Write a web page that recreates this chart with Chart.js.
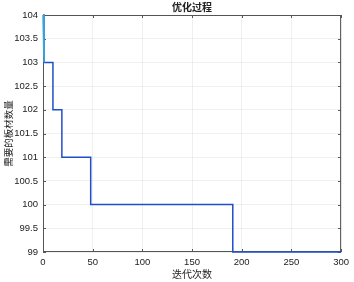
<!DOCTYPE html>
<html>
<head>
<meta charset="utf-8">
<script src="https://cdn.jsdelivr.net/npm/chart.js@4.4.1/dist/chart.umd.min.js"></script>
<style>
    html, body { margin: 0; padding: 0; background: #fff; }
    #wrap { width: 354px; height: 282px; }
</style>
</head>
<body>
<div id="wrap"><canvas id="c"></canvas></div>
<script>
// iteration numbers where the best value changes, and the value held from there on
const bestIters = [0, 1, 10, 19, 48, 191, 300];
const bestValues = [104, 103, 102, 101, 100, 99, 99];
// the short teal trace right at the start
const meanIters = [0, 1];
const meanValues = [104, 103];

const titleText = '优化过程';
const xLabel = '迭代次数';
const yLabel = '需要的板材数量';

const cjk = '"Noto Sans CJK SC", sans-serif';
const latin = '"Liberation Sans", Arial, sans-serif';

const toPoints = (xs, ys) => xs.map((x, i) => ({ x: x, y: ys[i] }));

// box round the plot with inward ticks on every side, plus the title
const boxPlugin = {
    id: 'box',
    beforeDatasetsDraw(chart) {
        const { ctx, chartArea: a, scales } = chart;
        ctx.save();
        ctx.strokeStyle = '#555';
        ctx.lineWidth = 1;
        ctx.strokeRect(a.left + 0.5, a.top + 0.5, a.right - a.left - 1, a.bottom - a.top - 1);
        ctx.beginPath();
        scales.x.ticks.forEach(t => {
            const px = Math.round(scales.x.getPixelForValue(t.value)) + 0.5;
            ctx.moveTo(px, a.bottom); ctx.lineTo(px, a.bottom - 3);
            ctx.moveTo(px, a.top); ctx.lineTo(px, a.top + 3);
        });
        scales.y.ticks.forEach(t => {
            const py = Math.round(scales.y.getPixelForValue(t.value)) + 0.5;
            ctx.moveTo(a.left, py); ctx.lineTo(a.left + 3, py);
            ctx.moveTo(a.right, py); ctx.lineTo(a.right - 3, py);
        });
        ctx.stroke();
        ctx.fillStyle = '#222';
        ctx.font = 'bold 10px ' + cjk;
        ctx.textAlign = 'center';
        ctx.textBaseline = 'middle';
        ctx.fillText(titleText, (a.left + a.right) / 2, 7);
        ctx.restore();
    }
};

new Chart(document.getElementById('c'), {
    type: 'line',
    data: {
        datasets: [
            {
                data: toPoints(meanIters, meanValues),
                borderColor: '#3aa6d8',
                borderWidth: 1.5,
                pointRadius: 0,
                clip: 4,
            },
            {
                data: toPoints(bestIters, bestValues),
                borderColor: '#1f4fc8',
                borderWidth: 1.5,
                pointRadius: 0,
                stepped: 'before',
                clip: 4,
            }
        ]
    },
    options: {
        responsive: true,
        maintainAspectRatio: false,
        animation: false,
        layout: { padding: { left: 0, right: 12, top: 15, bottom: 0 } },
        plugins: {
            legend: { display: false },
            tooltip: { enabled: false },
        },
        scales: {
            x: {
                type: 'linear',
                min: 0,
                max: 300,
                ticks: { stepSize: 50, color: '#222', font: { family: latin, size: 9.5 }, padding: 5, maxRotation: 0 },
                grid: { color: 'rgba(0,0,0,0.06)', drawTicks: false },
                border: { display: false },
                title: { display: true, text: xLabel, color: '#222', font: { family: cjk, size: 10 }, padding: { top: 0, bottom: 2 } },
                afterFit(scale) { scale.height = 30; },
            },
            y: {
                min: 99,
                max: 104,
                ticks: {
                    stepSize: 0.5, color: '#222', font: { family: latin, size: 9.5 }, padding: 5,
                    callback: v => String(v),
                },
                grid: { color: 'rgba(0,0,0,0.06)', drawTicks: false },
                border: { display: false },
                title: { display: true, text: yLabel, color: '#222', font: { family: cjk, size: 9.5 }, padding: { top: 3, bottom: 0 } },
                afterFit(scale) { scale.width = 43; },
            }
        }
    },
    plugins: [boxPlugin]
});
</script>
</body>
</html>
